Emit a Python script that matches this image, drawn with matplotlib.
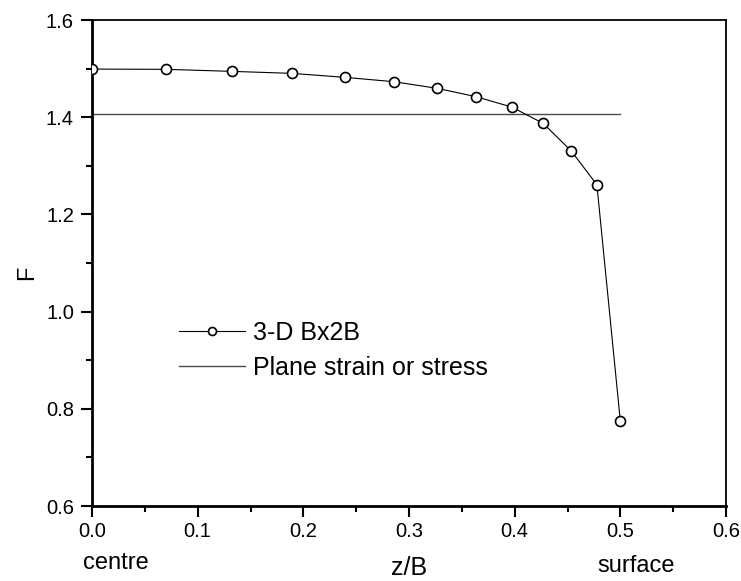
import matplotlib
matplotlib.use("Agg")
import matplotlib.pyplot as plt
from matplotlib.ticker import MultipleLocator, FormatStrFormatter

plt.rcParams['font.family'] = ['Liberation Sans', 'DejaVu Sans']

# data
z_over_B = [0.0, 0.0697, 0.1326, 0.1891, 0.2392, 0.2855, 0.3269, 0.3635,
            0.3972, 0.4270, 0.4536, 0.4778, 0.5]
F_3d = [1.499, 1.4985, 1.4943, 1.4902, 1.482, 1.4731, 1.4593, 1.4422,
        1.4209, 1.3873, 1.3304, 1.2611, 0.7746]
plane_x = [0.0, 0.5]
plane_F = [1.4065, 1.4065]
series_labels = ["3-D Bx2B", "Plane strain or stress"]
x_ticks = [0.0, 0.1, 0.2, 0.3, 0.4, 0.5, 0.6]
y_ticks = [0.6, 0.8, 1.0, 1.2, 1.4, 1.6]

fig = plt.figure(figsize=(7.41, 5.81), dpi=100)
ax = fig.add_axes([92/741, 1-506/581, 634/741, 486/581])

ax.plot(z_over_B, F_3d, color='black', lw=0.8, marker='o', ms=7.2,
        mfc='white', mec='black', mew=1.2, label=series_labels[0], zorder=3)
ax.plot(plane_x, plane_F, color='#4a4a4a', lw=1.0, label=series_labels[1], zorder=2)

ax.set_xlim(0, 0.6)
ax.set_ylim(0.6, 1.6)
ax.set_xticks(x_ticks)
ax.set_yticks(y_ticks)
ax.xaxis.set_minor_locator(MultipleLocator(0.05))
ax.yaxis.set_minor_locator(MultipleLocator(0.1))
ax.xaxis.set_major_formatter(FormatStrFormatter('%.1f'))
ax.yaxis.set_major_formatter(FormatStrFormatter('%.1f'))

ax.tick_params(which='both', direction='out', top=False, right=False,
               width=1.5, labelsize=14.5, color='black')
ax.tick_params(which='major', length=8)
ax.tick_params(which='minor', length=4)
ax.tick_params(axis='x', which='major', pad=3.5)
ax.tick_params(axis='y', which='major', pad=5)

for s in ['left', 'bottom']:
    ax.spines[s].set_linewidth(2.0)
for s in ['top', 'right']:
    ax.spines[s].set_linewidth(1.3)

ax.set_xlabel('z/B', fontsize=18, va='center')
ax.xaxis.set_label_coords(0.5, (506-568)/486)
ax.set_ylabel('F', fontsize=17, va='center', ha='center')
ax.yaxis.set_label_coords((27-92)/634, 0.48)

fig.text(115.4/741, 1-563/581, 'centre', fontsize=17, ha='center', va='center')
fig.text(636/741, 1-566/581, 'surface', fontsize=17, ha='center', va='center')

leg = ax.legend(loc='upper left', bbox_to_anchor=((178.6-92)/634, (506-321)/486),
                frameon=False, fontsize=18, handlelength=2.64, handletextpad=0.34,
                borderpad=0, borderaxespad=0, labelspacing=0.44, markerscale=0.8)

fig.savefig('out.png', dpi=100)
